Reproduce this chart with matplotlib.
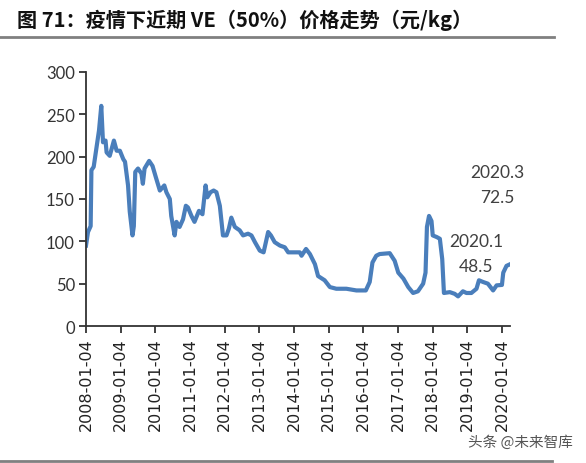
import matplotlib
matplotlib.use("Agg")
import matplotlib.pyplot as plt
import matplotlib.dates as mdates
import numpy as np
from datetime import datetime

plt.rcParams['font.family'] = ['Noto Sans CJK SC', 'DejaVu Sans']

dates = [
    "2008-01-04", "2008-01-25", "2008-02-22", "2008-03-01", "2008-03-25", "2008-05-20",
    "2008-06-13", "2008-07-01", "2008-07-28", "2008-08-08", "2008-09-10", "2008-10-24",
    "2008-11-22", "2008-12-26", "2009-01-31", "2009-02-18", "2009-03-22", "2009-04-09",
    "2009-05-08", "2009-05-22", "2009-06-06", "2009-07-05", "2009-08-10", "2009-08-25",
    "2009-09-12", "2009-10-30", "2009-12-05", "2010-01-08", "2010-02-20", "2010-04-08",
    "2010-04-30", "2010-06-05", "2010-06-20", "2010-07-26", "2010-08-14", "2010-09-16",
    "2010-10-22", "2010-11-21", "2010-12-13", "2011-01-19", "2011-02-20", "2011-04-08",
    "2011-05-15", "2011-06-17", "2011-07-05", "2011-08-08", "2011-09-10", "2011-10-09",
    "2011-11-14", "2011-12-17", "2012-01-23", "2012-02-17", "2012-03-14", "2012-04-20",
    "2012-06-10", "2012-07-16", "2012-09-06", "2012-10-12", "2012-11-18", "2013-01-08",
    "2013-02-17", "2013-04-06", "2013-05-05", "2013-06-14", "2013-08-08", "2013-09-28",
    "2013-11-03", "2014-03-05", "2014-03-24", "2014-05-10", "2014-06-20", "2014-08-12",
    "2014-09-14", "2014-11-22", "2015-01-16", "2015-03-25", "2015-07-09", "2015-10-23",
    "2016-01-30", "2016-03-11", "2016-04-09", "2016-05-19", "2016-06-24", "2016-10-08",
    "2016-11-29", "2017-01-06", "2017-03-01", "2017-04-21", "2017-06-11", "2017-08-01",
    "2017-09-25", "2017-10-20", "2017-11-04", "2017-11-26", "2017-12-22", "2018-01-04",
    "2018-02-16", "2018-03-20", "2018-04-14", "2018-05-02", "2018-07-03", "2018-08-23",
    "2018-09-28", "2018-11-18", "2018-12-25", "2019-02-15", "2019-04-10", "2019-05-06",
    "2019-06-18", "2019-08-08", "2019-10-02", "2019-11-08", "2020-01-03", "2020-01-17",
    "2020-02-20", "2020-03-20",
]
prices = [
    95, 111, 118, 184, 188, 231,
    260, 217, 219, 205, 201, 219,
    207, 207, 197, 194, 166, 135,
    107, 118, 182, 186, 180, 168,
    186, 195, 189, 176, 160, 166,
    158, 150, 130, 107, 123, 117,
    126, 142, 140, 130, 123, 136,
    132, 166, 152, 158, 160, 158,
    142, 107, 107, 115, 128, 117,
    113, 107, 109, 107, 99, 89,
    87, 111, 107, 99, 95, 93,
    87, 87, 83, 91, 85, 73,
    59, 54, 46, 44, 44, 42,
    42, 52, 75, 83, 85, 86,
    77, 63, 56, 46, 39, 41,
    50, 63, 117, 130, 124, 107,
    105, 103, 79, 39, 40, 38,
    35, 41, 39, 39, 44, 54,
    52, 50, 42, 48, 48.5, 63,
    71, 72.5,
]
tick_labels = [f"{y}-01-04" for y in range(2008, 2021)]
y_ticks = [0, 50, 100, 150, 200, 250, 300]
title = "图 71：疫情下近期 VE（50%）价格走势（元/kg）"
annotations = [("2020.3", "72.5"), ("2020.1", "48.5")]

x = [datetime.strptime(d, "%Y-%m-%d") for d in dates]
tick_pos = [datetime.strptime(t, "%Y-%m-%d") for t in tick_labels]

fig = plt.figure(figsize=(5.86, 4.64), dpi=100)
ax = fig.add_axes([86/586, 1-327/464, (510-86)/586, (327-73)/464])

ax.plot(x, prices, color="#4a7ebb", linewidth=3.0, solid_joinstyle="round")

ax.set_ylim(0, 300)
ax.set_xlim(datetime(2008, 1, 4), datetime(2020, 3, 28))
ax.set_yticks(y_ticks)
ax.set_yticklabels([str(v) for v in y_ticks], fontsize=12, color="#333333", family=["Lato", "DejaVu Sans"])
ax.set_xticks(tick_pos)
ax.set_xticklabels(tick_labels, rotation=90, fontsize=11.5, color="#222222", family=["DejaVu Sans"])
for s in ["top", "right"]:
    ax.spines[s].set_visible(False)
for s in ["left", "bottom"]:
    ax.spines[s].set_color("#333333")
    ax.spines[s].set_linewidth(1.3)
ax.tick_params(axis="both", direction="out", length=5, width=1.3, color="#333333", pad=3)

fig.text(17/586, 1-20/464, title, fontsize=14.5, fontweight="bold", va="center", ha="left", color="#111111")
fig.add_artist(plt.Line2D([0, 554/586], [1-38/464, 1-38/464], color="#808080", linewidth=2))
fig.add_artist(plt.Line2D([0, 552/586], [1-462/464, 1-462/464], color="#808080", linewidth=2))

lab_kw = dict(fontsize=12.5, color="#404040", ha="center", va="center", family=["Lato", "DejaVu Sans"])
fig.text(497/586, 1-173/464, annotations[0][0], **lab_kw)
fig.text(497/586, 1-198/464, annotations[0][1], **lab_kw)
fig.text(476/586, 1-242/464, annotations[1][0], **lab_kw)
fig.text(476/586, 1-267/464, annotations[1][1], **lab_kw)

fig.text(520/586, 1-443/464, "头条 @未来智库", fontsize=10.5, color="#555555", ha="center", va="center")

fig.savefig("out.png", dpi=100)
